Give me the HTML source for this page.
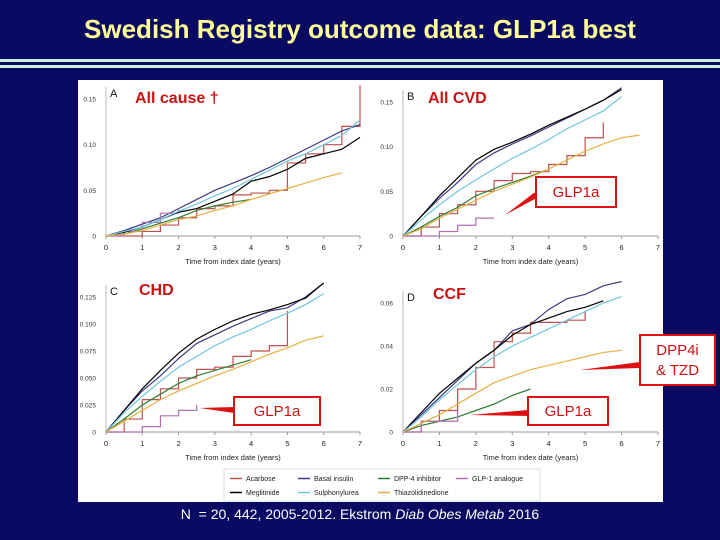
<!DOCTYPE html>
<html><head><meta charset="utf-8"><style>
body{margin:0;width:720px;height:540px;background:#0a0a62;overflow:hidden;position:relative;font-family:"Liberation Sans",sans-serif}
.t{position:absolute;left:0;width:720px;top:14px;text-align:center;color:#ffff99;font-family:"Liberation Sans Narrow","Liberation Sans",sans-serif;font-weight:bold;font-size:26px}
.ln{position:absolute;left:0;width:720px;height:3px;background:#cfeedd}
svg{position:absolute;left:0;top:0}
.foot{position:absolute;left:0;width:720px;top:506px;text-align:center;color:#fff;font-family:"Liberation Sans Narrow","Liberation Sans",sans-serif;font-size:14px}
</style></head><body>
<div class="t">Swedish Registry outcome data: GLP1a best</div>
<div class="ln" style="top:59px"></div>
<div class="ln" style="top:65px"></div>
<svg id="s" width="720" height="540">
<rect x="78" y="80" width="585" height="422" fill="#fff"/>
</svg>
<div class="foot">N&nbsp; = 20, 442, 2005-2012. Ekstrom <i>Diab Obes Metab</i> 2016</div>
<script>
const seriesNames=["Acarbose","Basal insulin","DPP-4 inhibitor","GLP-1 analogue","Meglitinide","Sulphonylurea","Thiazolidinedione"];
const colors=["#c0504d","#3c3c80","#2e7d32","#b070b0","#000000","#70c4e0","#e8b040"];
const xTicks=[0,1,2,3,4,5,6,7];
// values at 0.5-year steps
const aAcarbose=[0,0,0.005,0.012,0.02,0.03,0.033,0.045,0.047,0.05,0.08,0.09,0.1,0.12,0.165];
const aBasal=[0,0.006,0.013,0.02,0.03,0.04,0.05,0.058,0.066,0.075,0.085,0.095,0.105,0.115,0.122];
const aDpp=[0,0.002,0.008,0.014,0.02,0.028,0.033,0.037,0.04];
const aGlp=[0,0.005,0.015,0.025,0.03];
const aMegli=[0,0.004,0.01,0.018,0.026,0.03,0.038,0.046,0.06,0.065,0.073,0.085,0.09,0.095,0.108];
const aSulph=[0,0.005,0.01,0.018,0.027,0.035,0.044,0.052,0.062,0.072,0.082,0.09,0.1,0.11,0.127];
const aTzd=[0,0.002,0.006,0.012,0.018,0.022,0.028,0.033,0.04,0.046,0.052,0.058,0.064,0.069];
const bAcarbose=[0,0.01,0.025,0.035,0.05,0.062,0.07,0.072,0.08,0.09,0.11,0.127];
const bBasal=[0,0.022,0.042,0.06,0.08,0.093,0.103,0.112,0.122,0.132,0.142,0.152,0.166];
const bDpp=[0,0.01,0.022,0.032,0.045,0.053,0.06,0.067,0.075];
const bGlp=[0,0,0.005,0.012,0.02,0.02];
const bMegli=[0,0.022,0.045,0.065,0.085,0.097,0.105,0.114,0.124,0.133,0.142,0.152,0.164];
const bSulph=[0,0.018,0.035,0.05,0.063,0.075,0.087,0.097,0.108,0.12,0.13,0.14,0.156];
const bTzd=[0,0.008,0.02,0.03,0.04,0.05,0.058,0.066,0.075,0.085,0.095,0.103,0.11,0.113];
const cAcarbose=[0,0.012,0.03,0.04,0.05,0.058,0.06,0.07,0.075,0.08,0.112];
const cBasal=[0,0.02,0.038,0.052,0.068,0.082,0.09,0.098,0.105,0.112,0.115,0.125,0.138];
const cDpp=[0,0.012,0.025,0.035,0.045,0.052,0.057,0.062,0.067];
const cGlp=[0,0,0.005,0.015,0.02,0.025];
const cMegli=[0,0.02,0.04,0.057,0.073,0.086,0.095,0.103,0.109,0.113,0.118,0.124,0.138];
const cSulph=[0,0.018,0.033,0.047,0.06,0.07,0.08,0.088,0.095,0.103,0.11,0.118,0.128];
const cTzd=[0,0.01,0.02,0.03,0.038,0.045,0.052,0.058,0.065,0.072,0.078,0.085,0.089];
const dAcarbose=[0,0.005,0.01,0.02,0.03,0.042,0.046,0.051,0.051,0.052,0.056];
const dBasal=[0,0.008,0.016,0.024,0.032,0.038,0.047,0.05,0.057,0.062,0.064,0.068,0.07];
const dDpp=[0,0.003,0.005,0.007,0.01,0.013,0.017,0.02];
const dGlp=[0,0.005,0.005,0.01];
const dMegli=[0,0.009,0.018,0.025,0.032,0.038,0.045,0.05,0.053,0.056,0.058,0.061];
const dSulph=[0,0.007,0.015,0.022,0.029,0.035,0.04,0.044,0.048,0.052,0.056,0.06,0.063];
const dTzd=[0,0.004,0.008,0.013,0.018,0.023,0.026,0.029,0.031,0.033,0.035,0.037,0.038];
const aYTicks=["0","0.05","0.10","0.15"], aYVals=[0,0.05,0.10,0.15];
const cYTicks=["0","0.025","0.050","0.075","0.100","0.125"], cYVals=[0,0.025,0.05,0.075,0.1,0.125];
const dYTicks=["0","0.02","0.04","0.06"], dYVals=[0,0.02,0.04,0.06];

const NS="http://www.w3.org/2000/svg", svg=document.getElementById('s');
function mk(tag,attrs,parent){const e=document.createElementNS(NS,tag);for(const k in attrs)e.setAttribute(k,attrs[k]);(parent||svg).appendChild(e);return e;}
const panels=[
 {id:"a",letter:"A",title:"All cause \u2020",x0:106,x1:360,y0:236,yTop:99,vTop:0.15,yv:aYVals,yt:aYTicks,data:[aAcarbose,aBasal,aDpp,aGlp,aMegli,aSulph,aTzd],tx:135,ty:103},
 {id:"b",letter:"B",title:"All CVD",x0:403,x1:658,y0:236,yTop:102,vTop:0.15,yv:aYVals,yt:aYTicks,data:[bAcarbose,bBasal,bDpp,bGlp,bMegli,bSulph,bTzd],tx:428,ty:103},
 {id:"c",letter:"C",title:"CHD",x0:106,x1:360,y0:432,yTop:297,vTop:0.125,yv:cYVals,yt:cYTicks,data:[cAcarbose,cBasal,cDpp,cGlp,cMegli,cSulph,cTzd],tx:139,ty:295},
 {id:"d",letter:"D",title:"CCF",x0:403,x1:658,y0:432,yTop:303,vTop:0.06,yv:dYVals,yt:dYTicks,data:[dAcarbose,dBasal,dDpp,dGlp,dMegli,dSulph,dTzd],tx:433,ty:299}
];
panels.forEach(p=>{
 const g=mk('g',{});
 
 
 const X=v=>p.x0+(p.x1-p.x0)*v/7, Y=v=>p.y0-(p.y0-p.yTop)*v/p.vTop;
 const ax=mk('line',{x1:p.x0,y1:p.y0,x2:p.x1,y2:p.y0,stroke:'#999','stroke-width':1},g);
  
 const ay=mk('line',{x1:p.x0,y1:p.y0,x2:p.x0,y2:p.yTop-12,stroke:'#bbb','stroke-width':1},g);
  
 xTicks.forEach(t=>{
  mk('line',{x1:X(t),y1:p.y0,x2:X(t),y2:p.y0+3,stroke:'#999'},g);
  const tl=mk('text',{x:X(t),y:p.y0+14,'font-size':7.5,'text-anchor':'middle',fill:'#222'},g);
  tl.textContent=t;
   
 });
 p.yv.forEach((v,i)=>{
  const tl=mk('text',{x:p.x0-10,y:Y(v)+2.5,'font-size':6.5,'text-anchor':'end',fill:'#333'},g);
  tl.textContent=p.yt[i];
   
 });
 const xt=mk('text',{x:(p.x0+p.x1)/2,y:p.y0+28,'font-size':7.5,'text-anchor':'middle',fill:'#222'},g);
 xt.textContent='Time from index date (years)';
  
 p.data.forEach((arr,si)=>{
  let pts=[];
  arr.forEach((v,i)=>{
   if(si===0||si===3){ if(i>0) pts.push(X(i*0.5)+','+Y(arr[i-1])); }
   pts.push(X(i*0.5)+','+Y(v));
  });
  const pl=mk('polyline',{points:pts.join(' '),fill:'none',stroke:colors[si],'stroke-width':1.2},g);
  
  
 });
 const lt=mk('text',{x:p.x0+4,y:p.yTop-2,'font-size':11,fill:'#111'},g);
 lt.textContent=p.letter;
  
 const tt=mk('text',{x:p.tx,y:p.ty,'font-size':16,'font-weight':'bold',fill:'#cc1111'},g);
 tt.textContent=p.title;
  
});
// legend
const lg=mk('g',{});
 
mk('rect',{x:224,y:469,width:316,height:32,fill:'#fff',stroke:'#ddd'},lg);
const lpos=[[230,481],[298,481],[378,481],[456,481],[230,495],[298,495],[378,495]];
seriesNames.forEach((n,i)=>{
 const e=mk('g',{},lg);
  
 mk('line',{x1:lpos[i][0],y1:lpos[i][1]-2.5,x2:lpos[i][0]+12,y2:lpos[i][1]-2.5,stroke:colors[i],'stroke-width':1.5},e);
 const t=mk('text',{x:lpos[i][0]+16,y:lpos[i][1],'font-size':7,fill:'#222'},e);
 t.textContent=n;
});
// annotations
function callout(name,bx,by,bw,bh,lines,tipx,tipy,ax,ay){
 const g=mk('g',{});
  
 const dx=ax-tipx, dy=ay-tipy, L=Math.hypot(dx,dy), nx=-dy/L*3, ny=dx/L*3;
 mk('polygon',{points:`${tipx},${tipy} ${ax+nx},${ay+ny} ${ax-nx},${ay-ny}`,fill:'#dd1111'},g);
 mk('rect',{x:bx,y:by,width:bw,height:bh,fill:'#fff',stroke:'#dd1111','stroke-width':2},g);
 lines.forEach((l,i)=>{
  const t=mk('text',{x:bx+bw/2,y:by+bh/2+5+(i-(lines.length-1)/2)*20,'font-size':15,'text-anchor':'middle',fill:'#cc1111'},g);
  t.textContent=l;
 });
}
callout('glp1a-callout-b',536,177,80,30,['GLP1a'],505,215,536,195);
callout('dpp4i-tzd-callout',640,335,75,50,['DPP4i','& TZD'],580,370,640,365);
callout('glp1a-callout-c',234,397,86,28,['GLP1a'],200,408,234,410);
callout('glp1a-callout-d',528,397,80,28,['GLP1a'],470,415,528,413);
</script>
</body></html>
